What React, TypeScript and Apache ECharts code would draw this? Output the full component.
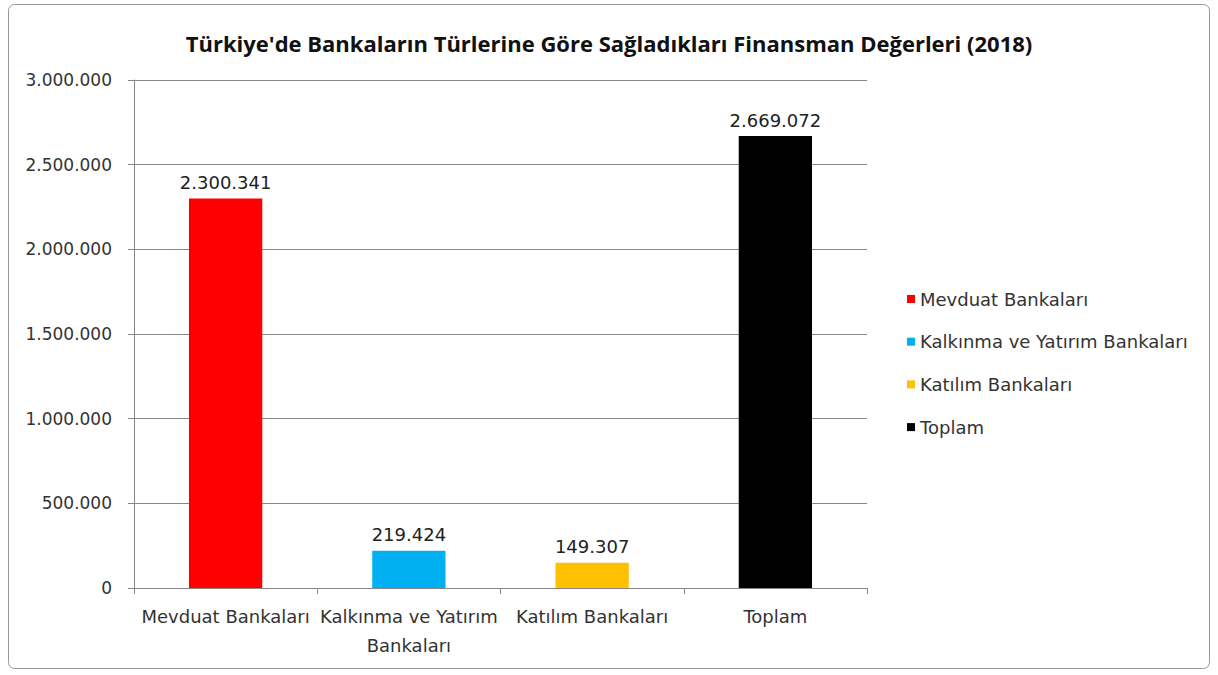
import React, { useEffect, useRef } from "react";
import * as echarts from "echarts";

const titleText = "Türkiye'de Bankaların Türlerine Göre Sağladıkları Finansman Değerleri (2018)";
const categories = ["Mevduat Bankaları", "Kalkınma ve Yatırım Bankaları", "Katılım Bankaları", "Toplam"];
const axisLabels = ["Mevduat Bankaları", "Kalkınma ve Yatırım\nBankaları", "Katılım Bankaları", "Toplam"];
const values = [2300341, 219424, 149307, 2669072];
const colors = ["#FF0000", "#00B0F0", "#FFC000", "#000000"];
const yTicks = [0, 500000, 1000000, 1500000, 2000000, 2500000, 3000000];

const fmt = (v: number) => String(Math.round(v)).replace(/\B(?=(\d{3})+(?!\d))/g, ".");
const FONT = "DejaVu Sans";

export default function App() {
  const ref = useRef<HTMLDivElement>(null);
  useEffect(() => {
    const chart = echarts.init(ref.current!, null, { renderer: "svg" });
    const series = categories.map((name, i) => ({
      name,
      type: "bar",
      stack: "all",
      barWidth: "40%",
      itemStyle: { color: colors[i] },
      label: {
        show: true,
        position: "top",
        distance: 7,
        formatter: (p: any) => fmt(p.value),
        color: "#222",
        fontFamily: FONT,
        fontSize: 18,
      },
      data: categories.map((_, j) => (j === i ? values[i] : null)),
    }));
    chart.setOption({
      animation: false,
      backgroundColor: "#fff",
      title: {
        text: titleText,
        left: "center",
        top: 27,
        textStyle: { fontFamily: "Open Sans", fontWeight: "bold", fontSize: 22, color: "#111" },
      },
      graphic: [
        {
          type: "rect",
          shape: { x: 8.5, y: 4.5, width: 1201, height: 664, r: 6 },
          style: { fill: "none", stroke: "#999", lineWidth: 1 },
          silent: true,
        },
      ],
      legend: {
        orient: "vertical",
        left: 902,
        top: 285,
        itemGap: 24.7,
        itemWidth: 8,
        itemHeight: 8,
        icon: "rect",
        textStyle: { fontFamily: FONT, fontSize: 18, color: "#333", padding: [0, 0, 0, 0] },
        data: categories,
      },
      grid: { left: 134, right: 351, top: 80, bottom: 87, containLabel: false },
      xAxis: {
        type: "category",
        data: axisLabels,
        axisLine: { lineStyle: { color: "#888" } },
        axisTick: { show: true, length: 6, alignWithLabel: false, lineStyle: { color: "#888" } },
        axisLabel: { margin: 14, fontFamily: FONT, fontSize: 18, color: "#333", lineHeight: 29, interval: 0 },
      },
      yAxis: {
        type: "value",
        min: yTicks[0],
        max: yTicks[yTicks.length - 1],
        interval: yTicks[1] - yTicks[0],
        axisLine: { show: true, lineStyle: { color: "#888" } },
        axisTick: { show: true, length: 6, lineStyle: { color: "#888" } },
        splitLine: { lineStyle: { color: "#888" } },
        axisLabel: { margin: 22, fontFamily: FONT, fontSize: 17, color: "#333", formatter: (v: number) => fmt(v) },
      },
      series,
    });
    return () => chart.dispose();
  }, []);
  return <div ref={ref} style={{ position: "absolute", left: 0, top: 0, width: 1218, height: 675 }} />;
}
